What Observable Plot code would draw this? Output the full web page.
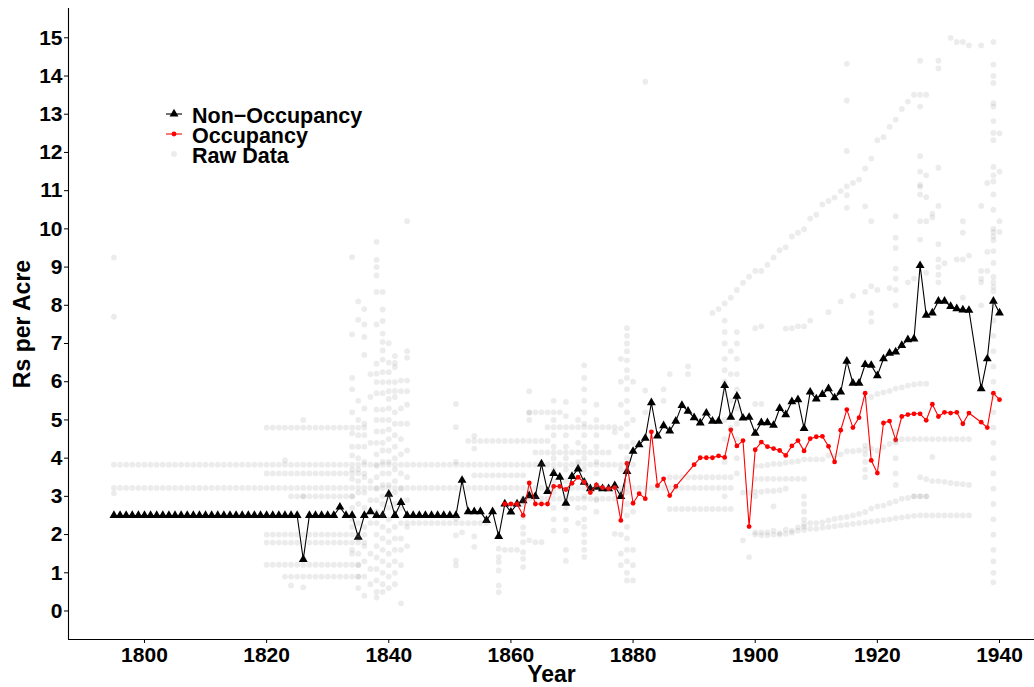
<!DOCTYPE html>
<html><head><meta charset="utf-8">
<script src="https://cdn.jsdelivr.net/npm/d3@7"></script>
<script src="https://cdn.jsdelivr.net/npm/@observablehq/plot@0.6"></script>
<style>
body{margin:0;background:#fff;}
#wrap{position:relative;width:1034px;height:687px;font-family:"Liberation Sans",Arial,sans-serif;}
#legend{position:absolute;left:164px;top:105.5px;font-weight:bold;font-size:21.5px;color:#000;}
.row{position:relative;height:20px;line-height:20px;padding-left:28px;white-space:nowrap;}
.row span{display:inline-block;height:20px;line-height:20px;vertical-align:top;}
.row svg{position:absolute;left:0;top:-2px;width:24px;height:20px;}
</style></head><body><div id="wrap"><div id="chart"></div><div id="legend"></div></div>
<script>
// ---------- axis ticks ----------
const xTicks = [1800, 1820, 1840, 1860, 1880, 1900, 1920, 1940];
const yTicks = [0,1,2,3,4,5,6,7,8,9,10,11,12,13,14,15];
const xDomain = [1787.56, 1945.73];
const yDomain = [-0.746, 15.767];

// ---------- Non-Occupancy (1795-1940, null = missing) ----------
const nonOccStart = 1795;
const nonOccValues = [
  2.5,2.5,2.5,2.5,2.5,2.5,2.5,2.5,2.5,2.5, // 1795-1804
  2.5,2.5,2.5,2.5,2.5,2.5,2.5,2.5,2.5,2.5, // 1805-1814
  2.5,2.5,2.5,2.5,2.5,2.5,2.5,2.5,2.5,2.5, // 1815-1824
  2.5,1.35,2.5,2.5,2.5,2.5,2.5,2.72,2.5,2.5, // 1825-1834
  1.93,2.5,2.6,2.5,2.5,3.06,2.5,2.84,2.5,2.5, // 1835-1844
  2.5,2.5,2.5,2.5,2.5,2.5,2.5,3.42,2.6,2.6, // 1845-1854
  2.6,2.37,2.6,1.95,2.8,2.59,2.8,2.89,3.02,3.0, // 1855-1864
  3.85,3.13,3.6,3.5,2.82,3.52,3.72,3.37,3.2,3.24, // 1865-1874
  3.2,3.2,3.28,3.0,3.65,4.18,4.35,4.52,5.45,4.58, // 1875-1884
  4.85,4.71,4.97,5.38,5.23,5.06,4.92,5.18,4.97,4.97, // 1885-1894
  5.9,5.07,5.62,5.05,5.07,4.65,4.93,4.93,4.86,5.3, // 1895-1904
  5.14,5.48,5.53,4.78,5.73,5.55,5.67,5.82,5.58,5.73, // 1905-1914
  6.54,5.96,5.96,6.45,6.43,6.16,6.6,6.75,6.78,6.95, // 1915-1924
  7.1,7.12,9.04,7.74,7.8,8.11,8.11,7.97,7.91,7.88, // 1925-1934
  7.87,null,5.82,6.6,8.11,7.8 // 1935-1940
];

// ---------- Occupancy (1859-1940, null = missing) ----------
const occStart = 1859;
const occValues = [
  2.8,2.8,2.8,2.5,3.35,2.8,2.8,2.8,3.26,3.26, // 1859-1868
  3.18,3.34,3.5,3.37,3.1,3.3,3.23,3.2,3.23,2.37, // 1869-1878
  3.86,2.82,3.07,2.94,4.69,3.28,3.46,3.02,3.26,null, // 1879-1888
  null,3.83,4.01,4.01,4.01,4.06,4.02,4.74,4.32,4.46, // 1889-1898
  2.21,4.22,4.42,4.3,4.25,4.2,4.07,4.32,4.46,4.19, // 1899-1908
  4.51,4.56,4.57,4.31,3.9,4.73,5.27,4.8,5.06,5.7, // 1909-1918
  3.94,3.61,4.92,4.97,4.48,5.09,5.14,5.16,5.16,4.99, // 1919-1928
  5.41,5.09,5.2,5.18,5.2,4.9,5.18,null,4.94,4.8, // 1929-1938
  5.7,5.53 // 1939-1940
];

// ---------- Raw data ----------
// constant rows: [value, first year, last year]
const rawRows = [
  [3.83,1795,1880],[3.22,1795,1896],[4.8,1820,1836],[3.6,1820,1836],
  [3.0,1824,1834],[2.0,1820,1836],[1.79,1820,1836],[1.21,1820,1835],
  [0.9,1823,1835],[2.3,1843,1856],[4.45,1853,1866],[3.55,1854,1862],
  [5.2,1863,1868],[4.81,1866,1877],[4.15,1864,1876],[2.94,1862,1877],
  [1.6,1859,1861],[3.5,1886,1896],[2.67,1886,1896],[3.46,1900,1908],
  [3.0,1926,1928]
];
// vertical clusters: [year, values]
const rawColumns = [
  [1795,[9.25,7.7,3.08]],[1823,[3.94]],[1824,[0.67]],[1826,[5.0,3.0,0.62]],
  [1834,[9.26,7.24,6.1,5.8,5.2,4.65,4.3,4.07,3.7,3.46,3.0,2.7,2.4,2.2,1.6,1.5]],
  [1835,[8.1,7.62,5.5,5.0,4.6,4.3,4.0,3.7,3.4,3.1,2.8,2.3,1.9,1.5,1.2,0.9,0.6]],
  [1836,[7.9,7.5,7.17,6.7,5.3,4.9,4.6,4.3,3.9,3.5,3.1,2.7,2.2,1.7,1.3,0.9,0.4]],
  [1837,[6.2,5.6,4.4,3.4,2.9,2.3,1.5,1.1,0.7]],
  [1838,[9.66,9.19,9.0,8.78,8.35,7.5,6.47,6.21,5.99,5.7,5.27,5.0,4.7,4.4,4.1,3.8,3.5,3.2,2.9,2.6,2.3,2.0,1.7,1.4,1.1,0.8,0.5,0.35]],
  [1839,[8.35,7.89,7.59,7.26,7.04,6.82,6.58,6.25,5.99,5.7,5.27,5.0,4.7,4.4,4.2,3.9,3.6,3.3,3.0,2.8,2.5,2.2,1.9,1.6,1.3,1.0,0.7,0.5]],
  [1840,[7.01,6.5,6.25,5.99,5.75,5.55,5.3,5.0,4.75,4.5,4.2,3.9,3.6,3.3,3.0,2.7,2.4,2.1,1.8,1.5,1.2,0.9,0.6]],
  [1841,[6.67,6.49,6.38,5.99,5.76,5.6,5.2,4.9,4.6,4.3,4.0,3.7,3.4,3.1,2.8,2.2,1.9,1.6,1.3,1.0,0.7]],
  [1842,[6.03,5.75,5.3,4.9,4.5,4.1,3.6,3.2,2.7,2.3,1.9,1.6,1.2,0.2]],
  [1843,[10.2,6.8,6.63,6.03,5.75,5.4,4.9,4.2,3.5,2.9,2.2,1.7]],
  [1851,[5.42,4.81,3.9,2.41,1.98,1.32,1.19]],[1852,[2.06]],
  [1854,[4.58,4.25,1.95,1.68]],[1858,[1.63,1.41,1.28,1.06,0.67,0.49]],
  [1862,[2.8,2.46,2.19,2.02,1.8,1.54,1.37,1.15]],[1863,[5.75,5.19,5.0,1.85]],
  [1864,[1.8]],[1865,[1.8]],
  [1867,[5.5,5.0,4.6,4.3,4.0,3.7,3.4,3.1,2.7,2.4,2.1]],
  [1869,[5.47,5.1,4.6,4.3,4.0,3.7,3.4,3.0,2.7,2.4,2.1,1.6,1.31]],
  [1871,[5.0,4.4,3.9,2.7,2.3]],
  [1872,[6.43,6.1,5.8,5.5,5.2,4.9,4.6,4.3,4.0,3.7,3.4,3.0,2.7,2.4,2.2,2.0,1.8,1.6,1.41]],
  [1874,[5.4,5.0,4.6,4.3,3.9,3.6,3.3,2.9,2.6]],[1877,[4.68,2.02]],
  [1878,[6.6,6.0,5.4,4.78,4.3,3.7,3.1,2.6,2.0,1.5,1.2]],
  [1879,[7.4,7.2,7.0,6.8,6.56,6.3,6.1,5.8,5.5,5.2,4.9,4.6,4.3,4.0,3.7,3.4,3.1,2.8,2.5,2.2,1.9,1.6,1.3,1.0,0.8]],
  [1880,[6.0,5.0,4.4,2.6,1.6,1.2,0.8]],[1882,[13.85,5.77,5.2]],[1885,[5.5,5.8]],
  [1886,[6.2]],[1889,[6.4,6.2]],
  [1895,[7.6,7.3,7.0,6.6,6.3,6.0,5.7,5.0,4.5,3.9,3.0]],[1896,[6.8,6.2,5.5,4.8]],
  [1897,[7.3,7.0,6.6,6.2,5.8,5.3,4.9,4.5,4.0,3.6]],[1898,[1.85]],[1899,[1.41]],
  [1900,[5.42,3.0]],[1901,[5.42]],[1903,[2.74]],[1908,[3.0,2.8,2.6,2.4,2.2]],
  [1915,[14.32,13.36,12.04,10.88,10.55]],[1918,[10.59,4.33,4.1,3.9,3.7,3.5]],
  [1919,[10.2,7.8,7.57]],[1923,[10.33,9.77,9.5,8.96,8.7,8.0,4.7,4.4,4.0,3.6,3.3]],
  [1927,[14.4,13.2,11.9,11.5,11.15,11.1,10.9,10.2,9.72]],[1928,[11.4,10.83,10.2]],
  [1929,[10.4,10.3,4.03]],[1930,[14.4,14.2,11.6,10.6,9.6,9.2,9.0,8.8,8.6]],
  [1932,[15.0]],[1933,[14.89]],[1934,[14.89,10.2,9.9,9.2,8.2]],[1935,[14.8]],
  [1937,[14.8,10.6,8.9,8.7,8.6,8.0]],[1938,[11.2,9.4,8.9]],
  [1939,[14.89,14.3,14.0,13.82,13.29,13.2,12.82,12.51,12.32,11.62,11.4,11.24,10.9,10.5,10.0,9.92,9.8,9.7,9.42,9.11,8.74,8.6,8.48,8.37,8.0,7.6,7.2,6.8,6.4,6.0,5.6,5.2,4.8,4.4,4.0,3.6,3.2,2.8,2.4,2.0,1.6,1.3,1.0,0.75]],
  [1940,[12.5,11.5,10.2,9.92]]
];
// sloping sequences: [year, value]
const rawTrendHigh = [[1893,7.8],[1894,7.9],[1895,8.05],[1896,8.2],[1897,8.4],[1898,8.59],[1899,8.75],[1900,8.9],[1901,8.9],[1902,9.06],[1903,9.25],[1904,9.44],[1905,9.52],[1906,9.8],[1907,9.9],[1908,9.99],[1909,10.27],[1910,10.37],[1911,10.64],[1912,10.73],[1913,10.82],[1914,10.99],[1915,11.11],[1916,11.2],[1917,11.29],[1918,11.58],[1919,11.84],[1920,12.32],[1921,12.4],[1922,12.67],[1923,12.86],[1924,13.14],[1925,13.33],[1926,13.51],[1927,13.51],[1928,13.51]];
const rawTrendMid = [[1900,7.4],[1901,7.45],[1905,7.39],[1906,7.4],[1907,7.45],[1908,7.45],[1909,7.6],[1912,7.82],[1914,8.1],[1916,8.25],[1918,8.35],[1919,8.5],[1920,8.4],[1922,8.45],[1923,8.4],[1925,8.6],[1926,8.7],[1928,8.85],[1931,9.1],[1933,9.2],[1935,9.3]];
const rawTrendLowA = [[1900,2.06],[1901,2.06],[1902,2.06],[1903,2.1],[1904,2.04],[1905,2.13],[1906,2.1],[1907,2.19],[1908,2.27],[1909,2.3],[1910,2.3],[1911,2.32],[1912,2.37],[1913,2.41],[1914,2.44],[1915,2.46],[1916,2.5],[1917,2.54],[1918,2.59],[1919,2.68],[1920,2.74],[1921,2.76],[1922,2.82],[1923,2.87],[1924,2.94],[1925,2.96],[1926,3.0],[1927,3.0],[1928,3.0]];
const rawTrendLowB = [[1900,2.0],[1901,1.98],[1902,1.98],[1903,2.0],[1904,2.0],[1905,2.02],[1906,2.05],[1907,2.1],[1908,2.12],[1909,2.15],[1910,2.15],[1911,2.18],[1912,2.2],[1913,2.22],[1914,2.24],[1915,2.26],[1916,2.28],[1917,2.3],[1918,2.32],[1919,2.34],[1920,2.36],[1921,2.38],[1922,2.4],[1923,2.43],[1924,2.45],[1925,2.47],[1926,2.49],[1927,2.5],[1928,2.5],[1929,2.5],[1930,2.5],[1931,2.5],[1932,2.5],[1933,2.5],[1934,2.5],[1935,2.5]];
const rawTrendMidA = [[1914,4.1],[1915,4.18],[1916,4.18],[1917,4.2],[1918,4.22],[1919,4.25],[1920,4.2],[1921,4.29],[1922,4.37],[1923,4.45],[1924,4.5],[1925,4.5],[1926,4.5],[1927,4.5],[1928,4.5],[1929,4.5],[1930,4.5],[1931,4.5],[1932,4.5],[1933,4.5],[1934,4.5],[1935,4.5]];
const rawTrendMidB = [[1900,3.8],[1901,3.8],[1902,3.82],[1903,3.85],[1904,3.85],[1905,3.88],[1906,3.9],[1907,3.92],[1908,3.97],[1909,3.97],[1910,3.97],[1911,3.97],[1912,4.07],[1913,4.05]];
const rawTrendMidC = [[1927,3.5],[1928,3.45],[1929,3.4],[1930,3.4],[1931,3.38],[1932,3.35],[1933,3.33],[1934,3.32],[1935,3.3]];
const rawTrendUpper = [[1918,5.55],[1919,5.6],[1920,5.68],[1921,5.72],[1922,5.76],[1923,5.82],[1924,5.85],[1925,5.9],[1926,5.93],[1927,5.95],[1928,5.95]];
const rawTrendLowC = [[1898,3.1],[1899,3.1],[1900,3.12],[1901,3.12],[1902,3.14],[1903,3.14],[1904,3.16],[1905,3.2]];

// ---------- build tables ----------
const nonOcc = nonOccValues.map((v,i)=>({year: nonOccStart+i, value: v})).filter(d=>d.value!=null);
const occ = occValues.map((v,i)=>({year: occStart+i, value: v})).filter(d=>d.value!=null);
const raw = [];
for (const [v,a,b] of rawRows) for (const yr of d3.range(a,b+1)) raw.push({year: yr, value: v});
for (const [yr,vals] of rawColumns) for (const v of vals) raw.push({year: yr, value: v});
for (const t of [rawTrendHigh,rawTrendMid,rawTrendLowA,rawTrendLowB,rawTrendMidA,rawTrendMidB,rawTrendMidC,rawTrendUpper,rawTrendLowC])
  for (const [yr,v] of t) raw.push({year: yr, value: v});

const FONT = '"Liberation Sans", Arial, sans-serif';
const chart = Plot.plot({
  width: 1034, height: 687,
  marginLeft: 68, marginRight: 0, marginTop: 8, marginBottom: 48,
  style: {fontFamily: FONT, fontSize: "21px", fontWeight: "bold", color: "#000", background: "#fff"},
  x: {domain: xDomain},
  y: {domain: yDomain},
  marks: [
    Plot.axisX({ticks: xTicks, tickFormat: d => String(d), tickSize: 4, tickPadding: 4, label: null, fontSize: 21}),
    Plot.axisY({ticks: yTicks, tickSize: 4, tickPadding: 2, label: null, fontSize: 21}),
    Plot.ruleX([xDomain[0]], {stroke: "#000", strokeWidth: 1.1}),
    Plot.ruleY([yDomain[0]], {stroke: "#000", strokeWidth: 1.1}),
    Plot.text(["Year"], {text: d => d, frameAnchor: "bottom", lineAnchor: "middle", textAnchor: "middle", dy: 35, fontSize: 23, fontWeight: "bold", fill: "#000"}),
    Plot.text(["Rs per Acre"], {text: d => d, frameAnchor: "left", lineAnchor: "middle", textAnchor: "middle", dx: -45.4, rotate: -90, fontSize: 23, fontWeight: "bold", fill: "#000"}),
    Plot.line(nonOcc, {x: "year", y: "value", stroke: "#000", strokeWidth: 1.1}),
    Plot.dot(nonOcc, {x: "year", y: "value", symbol: "triangle", r: 3.3, fill: "#000", stroke: "none"}),
    Plot.line(occ, {x: "year", y: "value", stroke: "#ff0000", strokeWidth: 1.1}),
    Plot.dot(occ, {x: "year", y: "value", r: 2.4, fill: "#ff0000", stroke: "none"}),
    Plot.dot(raw, {x: "year", y: "value", r: 2.9, fill: "#7f7f7f", fillOpacity: 0.15, stroke: "none"})
  ]
});
document.getElementById("chart").appendChild(chart);

// ---------- legend ----------
const legendItems = [
  {label: "Non\u2212Occupancy", color: "#000", shape: "triangle"},
  {label: "Occupancy", color: "#ff0000", shape: "dot"},
  {label: "Raw Data", color: "#ebebeb", shape: "raw"}
];
const lg = document.getElementById("legend");
for (const it of legendItems) {
  const row = document.createElement("div");
  row.className = "row";
  let icon = "";
  if (it.shape === "triangle") icon = `<line x1="2" x2="18" y1="10" y2="10" stroke="#000" stroke-width="1.1"/><path d="${d3.symbol(d3.symbolTriangle, Math.PI*3.3*3.3)()}" transform="translate(10,10)" fill="#000"/>`;
  else if (it.shape === "dot") icon = `<line x1="2" x2="18" y1="10" y2="10" stroke="#ff0000" stroke-width="1.1"/><circle cx="10" cy="10" r="2.4" fill="#ff0000"/>`;
  else icon = `<circle cx="10" cy="10" r="2.9" fill="#7f7f7f" fill-opacity="0.15"/>`;
  row.innerHTML = `<svg viewBox="0 0 24 20">${icon}</svg><span>${it.label}</span>`;
  lg.appendChild(row);
}
</script>
</body></html>
